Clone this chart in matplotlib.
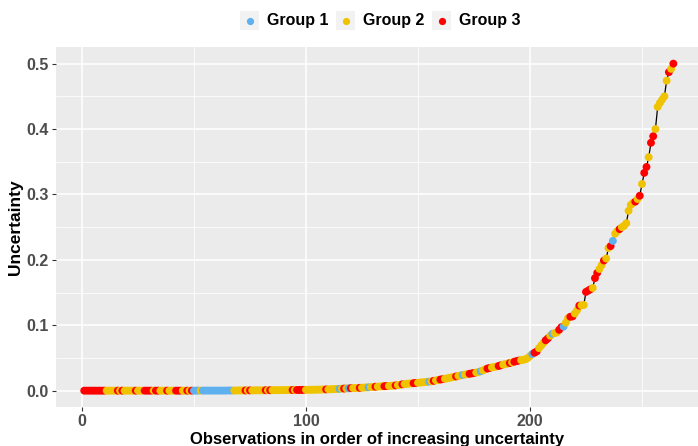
import matplotlib
matplotlib.use("Agg")
import matplotlib.pyplot as plt
from matplotlib.patches import Rectangle
from matplotlib.lines import Line2D
import numpy as np

uncertainty = [
    0.0000, 0.0000, 0.0000, 0.0000, 0.0000, 0.0000, 0.0000, 0.0000, 0.0000, 0.0000,
    0.0000, 0.0000, 0.0000, 0.0000, 0.0000, 0.0000, 0.0000, 0.0000, 0.0000, 0.0000,
    0.0000, 0.0000, 0.0000, 0.0000, 0.0000, 0.0000, 0.0000, 0.0000, 0.0000, 0.0000,
    0.0000, 0.0000, 0.0000, 0.0000, 0.0000, 0.0000, 0.0000, 0.0000, 0.0000, 0.0000,
    0.0000, 0.0000, 0.0000, 0.0000, 0.0000, 0.0000, 0.0000, 0.0000, 0.0000, 0.0000,
    0.0001, 0.0001, 0.0001, 0.0001, 0.0001, 0.0001, 0.0001, 0.0001, 0.0001, 0.0001,
    0.0001, 0.0001, 0.0001, 0.0001, 0.0002, 0.0002, 0.0002, 0.0002, 0.0002, 0.0003,
    0.0003, 0.0003, 0.0003, 0.0004, 0.0004, 0.0004, 0.0004, 0.0005, 0.0005, 0.0005,
    0.0005, 0.0006, 0.0006, 0.0006, 0.0007, 0.0007, 0.0007, 0.0008, 0.0008, 0.0008,
    0.0009, 0.0009, 0.0009, 0.0010, 0.0010, 0.0010, 0.0011, 0.0011, 0.0012, 0.0012,
    0.0013, 0.0013, 0.0014, 0.0014, 0.0015, 0.0016, 0.0017, 0.0018, 0.0019, 0.0020,
    0.0021, 0.0022, 0.0024, 0.0026, 0.0028, 0.0030, 0.0032, 0.0034, 0.0036, 0.0038,
    0.0039, 0.0040, 0.0041, 0.0043, 0.0045, 0.0047, 0.0049, 0.0051, 0.0054, 0.0057,
    0.0060, 0.0062, 0.0064, 0.0066, 0.0068, 0.0070, 0.0072, 0.0074, 0.0077, 0.0080,
    0.0085, 0.0090, 0.0097, 0.0101, 0.0105, 0.0108, 0.0111, 0.0114, 0.0118, 0.0121,
    0.0124, 0.0127, 0.0130, 0.0134, 0.0138, 0.0143, 0.0150, 0.0157, 0.0163, 0.0170,
    0.0175, 0.0181, 0.0188, 0.0196, 0.0203, 0.0210, 0.0218, 0.0226, 0.0233, 0.0240,
    0.0246, 0.0252, 0.0258, 0.0264, 0.0270, 0.0277, 0.0285, 0.0296, 0.0310, 0.0325,
    0.0338, 0.0347, 0.0355, 0.0362, 0.0369, 0.0377, 0.0388, 0.0398, 0.0407, 0.0415,
    0.0422, 0.0432, 0.0442, 0.0452, 0.0460, 0.0466, 0.0472, 0.0480, 0.0500, 0.0530,
    0.0560, 0.0580, 0.0600, 0.0650, 0.0690, 0.0730, 0.0770, 0.0800, 0.0840, 0.0870,
    0.0880, 0.0890, 0.0930, 0.0970, 0.0980, 0.1040, 0.1110, 0.1130, 0.1135, 0.1180,
    0.1230, 0.1300, 0.1305, 0.1310, 0.1510, 0.1530, 0.1550, 0.1570, 0.1720, 0.1800,
    0.1860, 0.1920, 0.1990, 0.2020, 0.2180, 0.2210, 0.2290, 0.2400, 0.2440, 0.2470,
    0.2500, 0.2520, 0.2560, 0.2750, 0.2840, 0.2870, 0.2890, 0.2930, 0.2980, 0.3160,
    0.3330, 0.3420, 0.3570, 0.3790, 0.3890, 0.4000, 0.4340, 0.4400, 0.4450, 0.4500,
    0.4740, 0.4870, 0.4920, 0.5000,
]

# cluster of each observation (1, 2, 3), same order
group = [
    3, 3, 3, 3, 3, 3, 3, 3, 3, 3,
    2, 2, 2, 2, 2, 3, 2, 3, 2, 2,
    2, 2, 2, 3, 2, 2, 2, 3, 3, 3,
    3, 2, 3, 3, 2, 2, 2, 3, 2, 2,
    2, 3, 3, 3, 2, 2, 3, 2, 3, 1,
    1, 1, 2, 1, 1, 1, 1, 1, 1, 1,
    1, 1, 1, 1, 1, 1, 1, 2, 2, 2,
    2, 2, 3, 2, 3, 2, 2, 2, 2, 2,
    2, 3, 2, 3, 2, 2, 2, 2, 2, 2,
    2, 2, 2, 3, 2, 3, 3, 3, 3, 2,
    2, 2, 2, 2, 2, 2, 2, 2, 3, 2,
    2, 2, 2, 2, 1, 2, 3, 2, 1, 3,
    2, 2, 2, 3, 2, 2, 2, 1, 2, 2,
    3, 2, 2, 2, 3, 3, 2, 2, 2, 3,
    2, 2, 3, 2, 2, 2, 2, 3, 3, 2,
    2, 2, 2, 2, 1, 2, 3, 2, 2, 3,
    3, 2, 2, 2, 2, 2, 3, 2, 2, 1,
    2, 2, 3, 3, 3, 2, 2, 1, 2, 2,
    3, 3, 2, 2, 2, 3, 3, 2, 2, 2,
    3, 2, 3, 3, 3, 2, 2, 2, 2, 2,
    1, 3, 3, 2, 2, 2, 3, 3, 2, 1,
    2, 2, 3, 3, 1, 2, 2, 3, 3, 2,
    2, 3, 2, 2, 3, 3, 3, 2, 3, 3,
    2, 2, 3, 2, 2, 3, 1, 2, 2, 3,
    2, 2, 2, 2, 2, 2, 3, 2, 3, 2,
    3, 3, 2, 3, 3, 2, 2, 2, 2, 2,
    2, 3, 2, 3,
]

group_names = ["Group 1", "Group 2", "Group 3"]
group_colors = ["#5EB0EE", "#EFC300", "#FF0000"]

obs = np.arange(1, len(uncertainty) + 1)
u = np.array(uncertainty)
cols = [group_colors[g - 1] for g in group]

W, H = 698, 446
fig = plt.figure(figsize=(W / 100, H / 100), dpi=100)
ax = fig.add_axes([56 / W, (H - 407) / H, (698 - 56) / W, (407 - 47.3) / H])
ax.set_facecolor("#EBEBEB")
for s in ax.spines.values():
    s.set_visible(False)

ax.set_xlim(-11.6, 275.0)
ax.set_ylim(-0.025, 0.525)
ax.set_xticks([0, 100, 200])
ax.set_xticks([50, 150, 250], minor=True)
ax.set_yticks([0.0, 0.1, 0.2, 0.3, 0.4, 0.5])
ax.set_yticks([0.05, 0.15, 0.25, 0.35, 0.45], minor=True)
ax.set_yticklabels(["0.0", "0.1", "0.2", "0.3", "0.4", "0.5"])
ax.grid(which="major", color="white", linewidth=1.1)
ax.grid(which="minor", color="white", linewidth=0.55)
ax.set_axisbelow(True)
ax.tick_params(which="major", length=3, width=0.8, color="#333333",
               labelsize=11.5, labelcolor="#4D4D4D", pad=2)
ax.tick_params(which="minor", length=0)
for lab in ax.get_xticklabels() + ax.get_yticklabels():
    lab.set_fontfamily("Liberation Sans")
    lab.set_fontweight("bold")

ax.plot(obs, u, color="black", linewidth=0.9, zorder=2)
ax.scatter(obs, u, c=cols, s=32, linewidths=0, zorder=3)

ax.set_xlabel("Observations in order of increasing uncertainty", fontsize=12,
              fontweight="bold", family="Liberation Sans", labelpad=2)
ax.set_ylabel("Uncertainty", fontsize=12.5, fontweight="bold",
              family="Liberation Sans", labelpad=3)

# legend on top, drawn ggplot style
key_x = [240, 336, 432]
for kx, name, c in zip(key_x, group_names, group_colors):
    fig.patches.append(Rectangle((kx / W, (H - 30) / H), 19 / W, 19 / H,
                                 transform=fig.transFigure, facecolor="#F2F2F2",
                                 edgecolor="none"))
    fig.lines.append(Line2D([(kx + 9.5) / W], [(H - 20.5) / H], marker="o",
                            markersize=5.2, color=c, markeredgewidth=0,
                            transform=fig.transFigure))
    fig.text((kx + 27) / W, (H - 20.5) / H, name, fontsize=11.5, fontweight="bold",
             family="Liberation Sans", va="center", ha="left")

fig.savefig("out.png", dpi=100)
